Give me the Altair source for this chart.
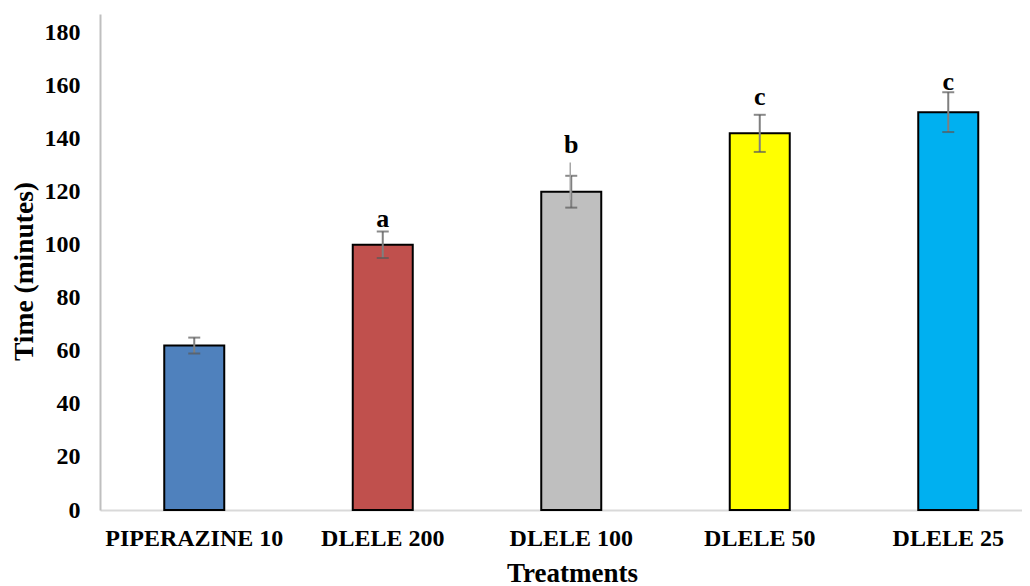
import altair as alt
import pandas as pd

categories = ["PIPERAZINE 10", "DLELE 200", "DLELE 100", "DLELE 50", "DLELE 25"]
means = [62, 100, 120, 142, 150]
errors = [3, 5, 6, 7, 7.5]
colors = ["#4f81bd", "#c0504d", "#bfbfbf", "#ffff00", "#00b0f0"]
letters = ["", "a", "b", "c", "c"]
letter_y = [None, 106.8, 134.6, 152.7, 158.4]
leader_cat = ["DLELE 100"]
leader_top = [131]
leader_bottom = [117]

df = pd.DataFrame({
    "cat": categories,
    "mean": means,
    "err": errors,
    "color": colors,
    "letter": letters,
    "ly": letter_y,
})
df["lo"] = df["mean"] - df["err"]
df["hi"] = df["mean"] + df["err"]

lead = pd.DataFrame({"cat": leader_cat, "top": leader_top, "bottom": leader_bottom})

FONT = "Liberation Serif"

x = alt.X(
    "cat:N",
    sort=categories,
    scale=alt.Scale(paddingInner=0, paddingOuter=0, range=[0, 942.5]),
    axis=alt.Axis(
        title="Treatments",
        labelAngle=0,
        labelFont=FONT, labelFontSize=24, labelFontWeight="bold", labelColor="#000000",
        labelPadding=16, labelBaseline="top",
        titleFont=FONT, titleFontSize=27, titleFontWeight="bold", titleColor="#000000",
        titlePadding=10, titleX=472,
        ticks=False, tickSize=0,
        domainColor="#d9d9d9", domainWidth=2,
        grid=False,
    ),
)
yscale = alt.Scale(domain=[0, 187], nice=False)
yaxis = alt.Axis(
    title="Time (minutes)",
    values=list(range(0, 181, 20)),
    labelFont=FONT, labelFontSize=24, labelFontWeight="bold", labelColor="#000000",
    labelPadding=20,
    titleFont=FONT, titleFontSize=27.5, titleFontWeight="bold", titleColor="#000000",
    titleX=-62, titleY=257,
    ticks=False, tickSize=0,
    domainColor="#bfbfbf", domainWidth=2,
    grid=False,
)

base = alt.Chart(df)

bars = base.mark_bar(size=60, stroke="#000000", strokeWidth=2).encode(
    x=x,
    y=alt.Y("mean:Q", scale=yscale, axis=yaxis),
    color=alt.Color("color:N", scale=None),
)

err_rule = base.mark_rule(color="#7f7f7f", strokeWidth=2).encode(
    x=alt.X("cat:N", sort=categories),
    y="lo:Q",
    y2="hi:Q",
)
cap_hi = base.mark_tick(color="#595959", thickness=2, size=12, orient="horizontal").encode(
    x=alt.X("cat:N", sort=categories),
    y="hi:Q",
)
cap_lo = base.mark_tick(color="#595959", thickness=2, size=12, orient="horizontal").encode(
    x=alt.X("cat:N", sort=categories),
    y="lo:Q",
)

leader = alt.Chart(lead).mark_rule(color="#a6a6a6", strokeWidth=1.5, xOffset=-1).encode(
    x=alt.X("cat:N", sort=categories),
    y="top:Q",
    y2="bottom:Q",
)

labels = base.transform_filter("datum.letter != ''").mark_text(
    font=FONT, fontSize=26, fontWeight="bold", color="#000000", baseline="alphabetic"
).encode(
    x=alt.X("cat:N", sort=categories),
    y="ly:Q",
    text="letter:N",
)

chart = alt.layer(bars, err_rule, cap_hi, cap_lo, leader, labels).properties(
    width=922,
    height=496,
    autosize=alt.AutoSizeParams(type="none"),
    padding={"left": 92, "top": 6, "right": 0, "bottom": 76},
).configure(background="#ffffff").configure_view(stroke="#ffffff", strokeOpacity=0, strokeWidth=0)

chart.save("out.html", embed_options={"renderer": "svg", "actions": False})
